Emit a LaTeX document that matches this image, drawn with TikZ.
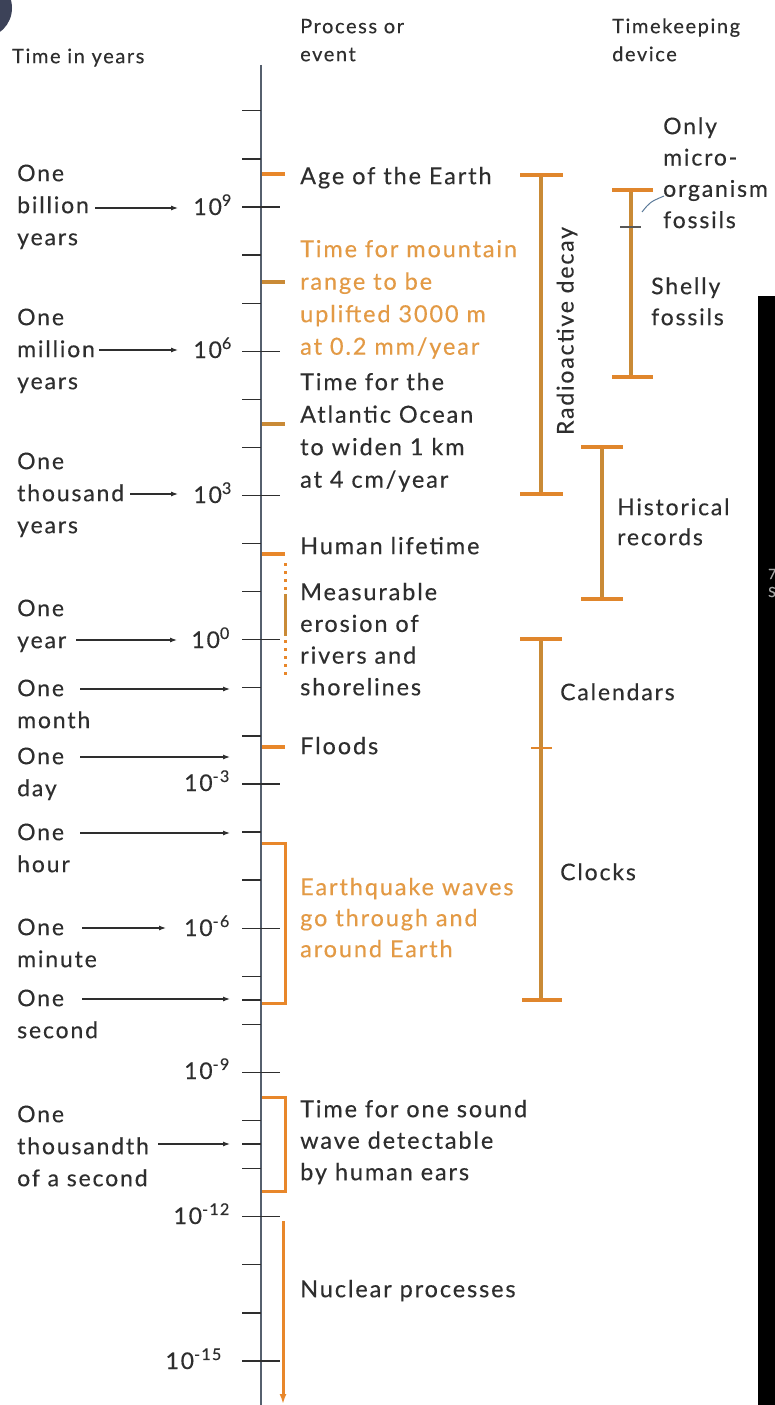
\documentclass[tikz,border=0pt]{standalone}
\usepackage{fontspec}
\setmainfont{Lato}[LetterSpace=8,FakeBold=0.3]
\usetikzlibrary{arrows.meta}
\definecolor{ink}{HTML}{2E2E2E}
\definecolor{evt}{HTML}{E8872A}
\definecolor{barc}{HTML}{C98A36}
\definecolor{capc}{HTML}{E0862C}
\definecolor{otext}{HTML}{E39A45}
\definecolor{axisc}{HTML}{56606E}
\definecolor{badge}{HTML}{3C4258}
\definecolor{linkc}{HTML}{5B7A99}
\newcommand{\msz}{\fontsize{23}{32}\selectfont}
\newcommand{\esz}{\fontsize{23.5}{32}\selectfont}
\newcommand{\hsz}{\fontsize{20}{28}\selectfont}
\newcommand{\tst}{\rule{0pt}{18pt}}
\newcommand{\hst}{\rule{0pt}{16pt}}
\begin{document}
\begin{tikzpicture}[x=1pt,y=-1pt,
  lbl/.style={anchor=north west,inner sep=0pt,align=left,font=\msz,text=ink},
  hlbl/.style={lbl,font=\hsz},
  olbl/.style={lbl,text=otext},
  num/.style={anchor=base east,inner sep=0pt,font=\msz,text=ink},
  tickmark/.style={draw=ink,line width=1.3pt},
  evtick/.style={draw=evt,line width=3.5pt},
  rangebar/.style={draw=barc,line width=4pt},
  rangecap/.style={draw=capc,line width=3.5pt},
  pointer/.style={draw=ink,line width=1.1pt,-{Latex[length=7pt,width=5pt]}},
  bracket/.style={draw=evt,line width=3pt}]
\useasboundingbox (0,0) rectangle (775,1405);
\fill[white] (0,0) rectangle (775,1405);
% corner badge and black strip
\fill[badge] (-18,8) circle (30);
\fill[black] (758,296) rectangle (775,1405);
\node[anchor=west,inner sep=0pt,font=\fontsize{14}{16}\selectfont,text=gray!70] (s7) at (768,574) {7};
\node[anchor=west,inner sep=0pt,font=\fontsize{14}{16}\selectfont,text=gray!70] (sS) at (768,592) {S};

% axis
\coordinate (axtop) at (261,65);
\coordinate (axbot) at (261,1405);
\draw[draw=axisc,line width=1.3pt] (axtop) -- (axbot);
\foreach \k in {11,10,8,7,5,4,2,1,-1,-2,-4,-5,-7,-8,-10,-11,-13,-14}
  \draw[tickmark] (242,{207+(9-\k)*48.08}) -- (261,{207+(9-\k)*48.08});
\foreach \k in {9,6,3,0,-3,-6,-9,-12,-15}
  \draw[tickmark] (242,{207+(9-\k)*48.08}) -- (280,{207+(9-\k)*48.08});
\draw[tickmark] (242,1000) -- (261,1000);
\draw[tickmark] (242,1144) -- (261,1144);

% headers
\node[hlbl] (hTime) at (12,47) {\hst Time in years};
\node[hlbl] (hProc) at (300,17) {\hst Process or\\event};
\node[hlbl] (hDev) at (612,17) {\hst Timekeeping\\device};

% left labels
\node[lbl] (lBil) at (17,163) {\tst One\\billion\\years};
\node[lbl] (lMil) at (17,307) {\tst One\\million\\years};
\node[lbl] (lTho) at (17,451) {\tst One\\thousand\\years};
\node[lbl] (lYr) at (17,598) {\tst One\\year};
\node[lbl] (lMon) at (17,678) {\tst One\\month};
\node[lbl] (lDay) at (17,746) {\tst One\\day};
\node[lbl] (lHr) at (17,822) {\tst One\\hour};
\node[lbl] (lMin) at (17,917) {\tst One\\minute};
\node[lbl] (lSec) at (17,988) {\tst One\\second};
\node[lbl] (lMs) at (17,1104) {\tst One\\thousandth\\of a second};

% numbers
\node[num] (n9) at (232,215) {10\textsuperscript{9}};
\node[num] (n6) at (232,358) {10\textsuperscript{6}};
\node[num] (n3) at (232,503) {10\textsuperscript{3}};
\node[num] (n0) at (230,648) {10\textsuperscript{0}};
\node[num] (nm3) at (230,791) {10\textsuperscript{-3}};
\node[num] (nm6) at (230,936) {10\textsuperscript{-6}};
\node[num] (nm9) at (230,1079) {10\textsuperscript{-9}};
\node[num] (nm12) at (230,1224) {10\textsuperscript{-12}};
\node[num] (nm15) at (222,1369) {10\textsuperscript{-15}};

% pointer arrows
\coordinate (aBs) at (95,208);  \coordinate (aBe) at (178,208);
\coordinate (aMs) at (99,350);  \coordinate (aMe) at (178,350);
\coordinate (aTs) at (130,494); \coordinate (aTe) at (178,494);
\coordinate (aYs) at (76,640);  \coordinate (aYe) at (177,640);
\coordinate (aMos) at (80,689); \coordinate (aMoe) at (230,689);
\coordinate (aDs) at (80,757);  \coordinate (aDe) at (230,757);
\coordinate (aHs) at (80,833);  \coordinate (aHe) at (230,833);
\coordinate (aMis) at (82,928); \coordinate (aMie) at (166,928);
\coordinate (aSs) at (82,999);  \coordinate (aSe) at (230,999);
\coordinate (aMss) at (158,1144); \coordinate (aMse) at (230,1144);
\draw[pointer] (aBs) -- (aBe);
\draw[pointer] (aMs) -- (aMe);
\draw[pointer] (aTs) -- (aTe);
\draw[pointer] (aYs) -- (aYe);
\draw[pointer] (aMos) -- (aMoe);
\draw[pointer] (aDs) -- (aDe);
\draw[pointer] (aHs) -- (aHe);
\draw[pointer] (aMis) -- (aMie);
\draw[pointer] (aSs) -- (aSe);
\draw[pointer] (aMss) -- (aMse);

% event ticks
\draw[evtick] (262,174) -- (285,174);
\draw[evtick,draw=barc] (262,282) -- (285,282);
\draw[evtick,draw=barc] (262,424) -- (285,424);
\draw[evtick] (262,554) -- (285,554);
\draw[evtick] (262,747) -- (285,747);

% event labels
\node[lbl,font=\esz] (eAge) at (300,166) {\tst Age of the Earth};
\node[olbl,font=\fontsize{23.5}{32.5}\selectfont] (eMnt) at (300,239) {\tst Time for mountain\\range to be\\uplifted 3000 m\\at 0.2 mm/year};
\node[lbl,font=\fontsize{23.5}{32.5}\selectfont] (eAtl) at (300,372) {\tst Time for the\\Atlantic Ocean\\to widen 1 km\\at 4 cm/year};
\node[lbl,font=\esz] (eHum) at (300,536) {\tst Human lifetime};
\node[lbl,font=\fontsize{23.5}{31.7}\selectfont] (eEro) at (300,582) {\tst Measurable\\erosion of\\rivers and\\shorelines};
\node[lbl,font=\esz] (eFld) at (300,736) {\tst Floods};
\node[olbl,font=\fontsize{23.5}{31}\selectfont] (eQk) at (300,877) {\tst Earthquake waves\\go through and\\around Earth};
\node[lbl,font=\fontsize{23.5}{31.5}\selectfont] (eSnd) at (300,1099) {\tst Time for one sound\\wave detectable\\by human ears};
\node[lbl,font=\esz] (eNuc) at (300,1279) {\tst Nuclear processes};

% erosion range (dotted-dash)
\draw[draw=evt,line width=3pt,dash pattern=on 3pt off 5pt] (285,563) -- (285,592);
\draw[draw=barc,line width=3pt] (285,594) -- (285,636);
\draw[draw=evt,line width=3pt,dash pattern=on 3pt off 5pt] (285,640) -- (285,678);

% brackets
\draw[bracket] (262,843) -- (285,843) -- (285,1003) -- (262,1003);
\draw[bracket] (262,1097) -- (285,1097) -- (285,1191) -- (262,1191);
\coordinate (nucTop) at (283,1221);
\coordinate (nucBot) at (283,1404);
\draw[draw=evt,line width=3pt,-{Latex[length=10pt,width=7pt]}] (nucTop) -- (nucBot);

% radioactive decay
\coordinate (rdT) at (541,175); \coordinate (rdB) at (541,494);
\draw[rangebar] (rdT) -- (rdB);
\draw[rangecap] (520,175) -- (563,175);
\draw[rangecap] (520,494) -- (563,494);
\node[rotate=90,inner sep=0pt,font=\msz,text=ink] (rdL) at (567,331) {Radioactive decay};

% fossils
\coordinate (fsT) at (631,190); \coordinate (fsB) at (631,377);
\draw[rangebar] (fsT) -- (fsB);
\draw[rangecap] (612,190) -- (653,190);
\draw[rangecap] (612,377) -- (653,377);
\draw[draw=ink!80,line width=1.2pt] (620,227) -- (641,227);
\node[lbl,font=\fontsize{23}{31.3}\selectfont] (fMic) at (663,116) {\tst Only\\micro-\\organism\\fossils};
\node[lbl,font=\fontsize{23}{31}\selectfont] (fShl) at (651,276) {\tst Shelly\\fossils};
\coordinate (lkA) at (642,212);
\coordinate (lkB) at (664,196);
\draw[draw=linkc,line width=1pt] (lkA) .. controls (650,202) .. (lkB);

% historical records
\coordinate (hrT) at (602,447); \coordinate (hrB) at (602,599);
\draw[rangebar] (hrT) -- (hrB);
\draw[rangecap] (581,447) -- (623,447);
\draw[rangecap] (581,599) -- (623,599);
\node[lbl,font=\fontsize{23}{30}\selectfont] (hrL) at (617,497) {\tst Historical\\records};

% calendars and clocks
\coordinate (ccT) at (541,639); \coordinate (ccB) at (541,1000);
\draw[rangebar] (ccT) -- (ccB);
\draw[rangecap] (520,639) -- (562,639);
\draw[rangecap] (522,1000) -- (562,1000);
\draw[draw=capc,line width=2pt] (531,748) -- (552,748);
\node[lbl] (cCal) at (560,682) {\tst Calendars};
\node[lbl] (cClk) at (560,862) {\tst Clocks};
\end{tikzpicture}
\end{document}
